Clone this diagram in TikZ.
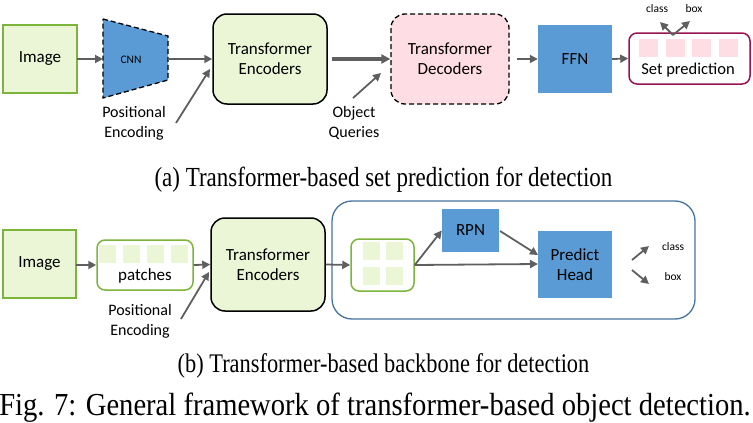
\documentclass[tikz,border=0pt]{standalone}
\usepackage{fontspec}
\setmainfont{Liberation Serif}
\newfontfamily\diag{Carlito}
\usetikzlibrary{arrows.meta}
\definecolor{lgreen}{RGB}{235,246,214}
\definecolor{bgreen}{RGB}{125,180,60}
\definecolor{lpink}{RGB}{255,221,228}
\definecolor{mblue}{RGB}{91,155,213}
\definecolor{sblue}{RGB}{70,115,160}
\definecolor{plum}{RGB}{150,20,80}
\definecolor{agray}{RGB}{95,95,95}
\begin{document}
\begin{tikzpicture}[x=1pt,y=-1pt,
  every node/.style={font=\diag\fontsize{17}{20}\selectfont, inner sep=0pt},
  flow/.style={draw=agray, line width=1.8pt, -{Triangle[length=8pt,width=8pt]}},
  thickflow/.style={draw=agray, line width=3.2pt, -{Triangle[length=9pt,width=9pt]}},
  dashline/.style={dash pattern=on 5pt off 3pt, line width=1.3pt},
  greenbox/.style={draw=bgreen, line width=1.5pt, fill=lgreen},
  encbox/.style={draw=black, line width=1.5pt, fill=lgreen, rounded corners=14pt},
  bluebox/.style={fill=mblue},
  holder/.style={draw=bgreen, line width=1.5pt, fill=white, rounded corners=8pt},
  gtile/.style={fill=lgreen},
  ptile/.style={fill=lpink},
  lbl/.style={font=\diag\fontsize{16}{20}\selectfont, align=center},
  small/.style={font=\diag\fontsize{11.5}{13}\selectfont},
  captext/.style={font=\rmfamily\fontsize{23}{26}\selectfont, anchor=base},
]
\useasboundingbox (0,0) rectangle (753,423);

% ---------- (a) set prediction ----------
\path[greenbox] (3,25) rectangle (77,93);
\node (imgA) at (40,59) {Image};
\coordinate (imgAr) at (77,59);

\draw[fill=mblue, dashline] (103,19) -- (168,36) -- (168,80) -- (103,98) -- cycle;
\node[font=\diag\fontsize{11.5}{13}\selectfont] (cnn) at (131,60) {CNN};
\coordinate (cnnL) at (103,59);
\coordinate (cnnR) at (168,59);

\node[encbox, minimum width=114pt, minimum height=90pt, align=center] (encA) at (270,59) {Transformer\\Encoders};

\node[draw=black, dashline, fill=lpink, rounded corners=14pt,
  minimum width=118pt, minimum height=90pt, align=center] (dec) at (450,59) {Transformer\\Decoders};

\node[bluebox, minimum width=74pt, minimum height=68pt] (ffn) at (575,59) {FFN};

\node[draw=plum, line width=1.5pt, fill=white, rounded corners=8pt,
  minimum width=121pt, minimum height=51pt] (setp) at (689.5,58.5) {};
\foreach \x in {639,666,692,719}
  \path[ptile] (\x,39) rectangle ++(19,18);
\node[font=\diag\fontsize{16.5}{20}\selectfont] (setlbl) at (688,70) {Set prediction};

\node[lbl] (posA) at (134,123) {Positional\\Encoding};
\node[lbl] (oq) at (354,123) {Object\\Queries};

\coordinate (pa0) at (176,123);
\coordinate (pa1) at (210,69);
\coordinate (encAout) at (332,59);
\coordinate (oq0) at (353,98);
\coordinate (oq1) at (381,73);
\coordinate (decout) at (517,59);
\coordinate (clsA0) at (673,35);
\coordinate (clsA1) at (660,22);
\coordinate (boxA1) at (690,21);
\node[small] (clsA) at (657,9) {class};
\node[small] (boxA) at (694,9) {box};

\draw[flow] (imgAr) -- (cnnL);
\draw[flow] (cnnR) -- (encA.west);
\draw[flow] (pa0) -- (pa1);
\draw[thickflow] (encAout) -- (dec.west);
\draw[flow] (oq0) -- (oq1);
\draw[flow] (decout) -- (ffn.west);
\draw[flow] (ffn.east) -- (setp.west);
\draw[flow] (clsA0) -- (clsA1);
\draw[flow] (clsA0) -- (boxA1);

\node[captext] (capA) at (383.5,186) {\scalebox{1}[1.2]{(a) Transformer-based set prediction for detection}};

% ---------- (b) backbone ----------
\path[greenbox] (3,230) rectangle (76,298);
\node (imgB) at (39.5,264) {Image};
\coordinate (imgBr) at (76,265);

\node[holder, minimum width=96pt, minimum height=50pt] (patch) at (145,265) {};
\foreach \x in {99,123,147,171}
  \path[gtile] (\x,245) rectangle ++(17,18);
\node (patchlbl) at (145,276) {patches};

\node[encbox, minimum width=114pt, minimum height=93pt, align=center] (encB) at (268,264.5) {Transformer\\Encoders};
\node[lbl] (posB) at (140,321) {Positional\\Encoding};
\coordinate (pb0) at (181,319);
\coordinate (pb1) at (209,272);

\draw[draw=sblue, line width=1.3pt, rounded corners=20pt] (332,201) rectangle (695,319);
\node[holder, minimum width=63pt, minimum height=52pt] (grid) at (382.5,265) {};
\foreach \x in {363,386}
  \foreach \y in {242,267}
    \path[gtile] (\x,\y) rectangle ++(17,18);

\node[bluebox, minimum width=57pt, minimum height=43pt] (rpn) at (470.5,230.5) {RPN};
\node[bluebox, minimum width=74pt, minimum height=67pt, align=center] (ph) at (575,264.5) {Predict\\Head};
\coordinate (phin) at (538,264);
\coordinate (phin2) at (538,255);
\coordinate (rpnout) at (500,231);

\coordinate (clsB0) at (632,260);
\coordinate (clsB1) at (649,246);
\coordinate (boxB0) at (632,270);
\coordinate (boxB1) at (649,284);
\node[small] (clsB) at (673,247) {class};
\node[small] (boxB) at (673,277) {box};

\draw[flow] (imgBr) -- (patch.west);
\draw[flow] (patch.east) -- (encB.west);
\draw[flow] (pb0) -- (pb1);
\draw[flow] (encB.east) -- (grid.west);
\draw[flow] (grid.east) -- (phin);
\draw[flow] (grid.east) -- (rpn.west);
\draw[flow] (rpnout) -- (phin2);
\draw[flow] (clsB0) -- (clsB1);
\draw[flow] (boxB0) -- (boxB1);

\node[captext, font=\rmfamily\fontsize{22.4}{26}\selectfont] (capB) at (383.5,372) {\scalebox{1}[1.2]{(b) Transformer-based backbone for detection}};
\node[captext, font=\rmfamily\fontsize{28.6}{32}\selectfont] (fig) at (375,415) {\scalebox{1}[1.12]{Fig. 7: General framework of transformer-based object detection.}};
\end{tikzpicture}
\end{document}
